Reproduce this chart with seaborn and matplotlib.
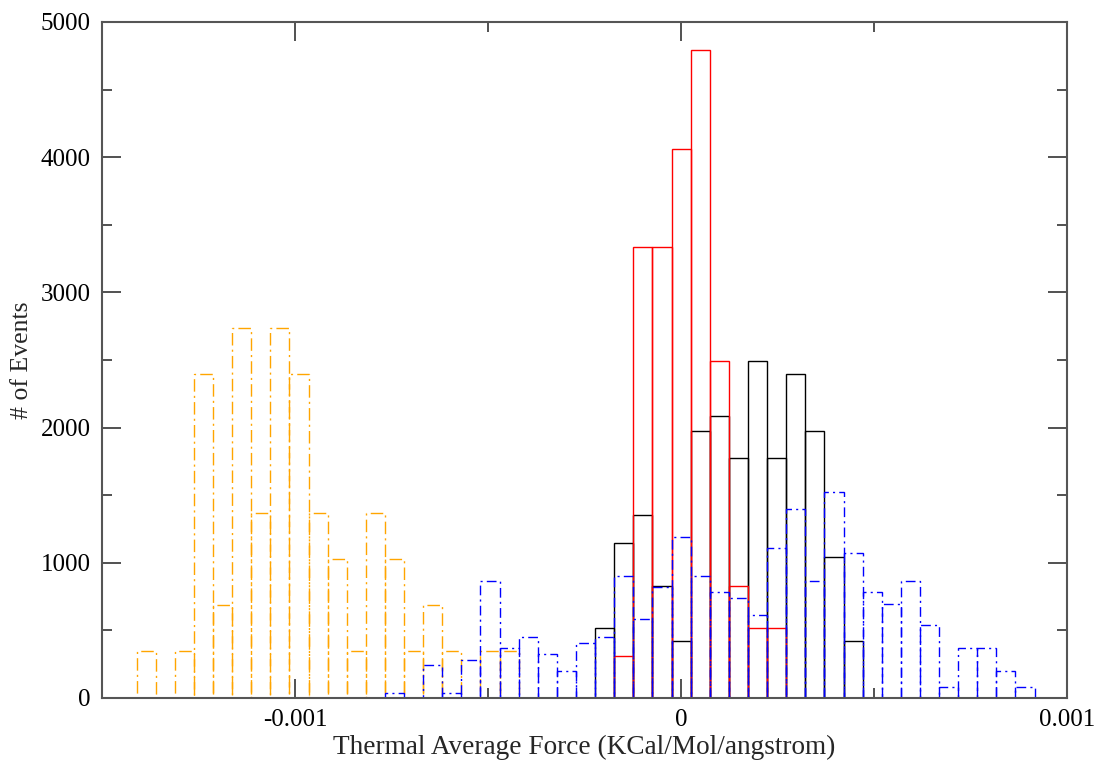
import numpy as np
import pandas as pd
import matplotlib
matplotlib.use("Agg")
import matplotlib.pyplot as plt
from matplotlib.ticker import FixedLocator, MultipleLocator
import seaborn as sns

# ---- data (histogram counts on a common bin grid) ----
BIN_WIDTH = 4.95e-5        # width of each histogram bin
BIN_ORIGIN = 2.5e-5        # left edge of bin index 0

orange_start = -29
orange_counts = [344, 0, 344, 2400, 690, 2740, 1370, 2740, 2400, 1370,
                 1030, 344, 1370, 1030, 344, 690, 344, 0, 344, 344]

blue_start = -16
blue_counts = [40, 0, 244, 40, 284, 865, 370, 452, 326, 200,
               410, 452, 904, 581, 822, 1193, 904, 781, 739, 613,
               1109, 1395, 868, 1521, 1069, 781, 697, 864, 541, 84,
               368, 368, 203, 79]

black_start = -5
black_counts = [521, 1146, 1356, 830, 420, 1978, 2084, 1773, 2496, 1773,
                2395, 1978, 1042, 420]

red_start = -4
red_counts = [311, 3338, 3338, 4062, 4795, 2496, 830, 521, 521]

xtick_values = [-0.001, 0.0, 0.001]
xtick_labels = ["-0.001", "0", "0.001"]
ytick_values = [0, 1000, 2000, 3000, 4000, 5000]
ytick_labels = ["0", "1000", "2000", "3000", "4000", "5000"]
x_label = "Thermal Average Force (KCal/Mol/angstrom)"
y_label = "# of Events"


def frame_for(start, counts):
    n = len(counts)
    edges = BIN_ORIGIN + (start + np.arange(n + 1)) * BIN_WIDTH
    centers = (edges[:-1] + edges[1:]) / 2
    df = pd.DataFrame({"force": centers, "events": np.asarray(counts, dtype=float)})
    return df, list(edges)


sns.set_style("ticks")
plt.rcParams["font.family"] = ["Liberation Serif", "DejaVu Serif"]

fig = plt.figure(figsize=(11.01, 7.60), dpi=100)
ax = fig.add_axes([102 / 1101, 1 - 698 / 760, (1067 - 102) / 1101, (698 - 22) / 760])

series = [
    (orange_start, orange_counts, "#FFA500", (0, (9, 3, 1.5, 3))),
    (black_start, black_counts, "#000000", "solid"),
    (red_start, red_counts, "#FF0000", "solid"),
    (blue_start, blue_counts, "#0000FF", (0, (7, 3, 1.5, 3))),
]
for start, counts, color, ls in series:
    df, e = frame_for(start, counts)
    sns.histplot(data=df, x="force", weights="events", bins=e, element="bars",
                 fill=False, color=color, linewidth=1.0, linestyle=ls, ax=ax)

ax.set_xlim(-0.0015, 0.001)
ax.set_ylim(0, 5000)
ax.xaxis.set_major_locator(FixedLocator(xtick_values))
ax.set_xticklabels(xtick_labels)
ax.xaxis.set_minor_locator(MultipleLocator(0.0005))
ax.yaxis.set_major_locator(FixedLocator(ytick_values))
ax.set_yticklabels(ytick_labels)
ax.yaxis.set_minor_locator(MultipleLocator(500))

ax.tick_params(which="both", direction="in", top=True, right=True,
               labelsize=18, colors="#333333", labelcolor="black", width=1.2)
ax.tick_params(which="major", length=14, pad=8)
ax.tick_params(which="minor", length=7)
for s in ax.spines.values():
    s.set_visible(True)
    s.set_color("#555555")
    s.set_linewidth(1.5)

ax.set_xlabel(x_label, fontsize=19.6, labelpad=3)
ax.set_ylabel(y_label, fontsize=18.5, labelpad=6)

fig.savefig("out.png", dpi=100)
